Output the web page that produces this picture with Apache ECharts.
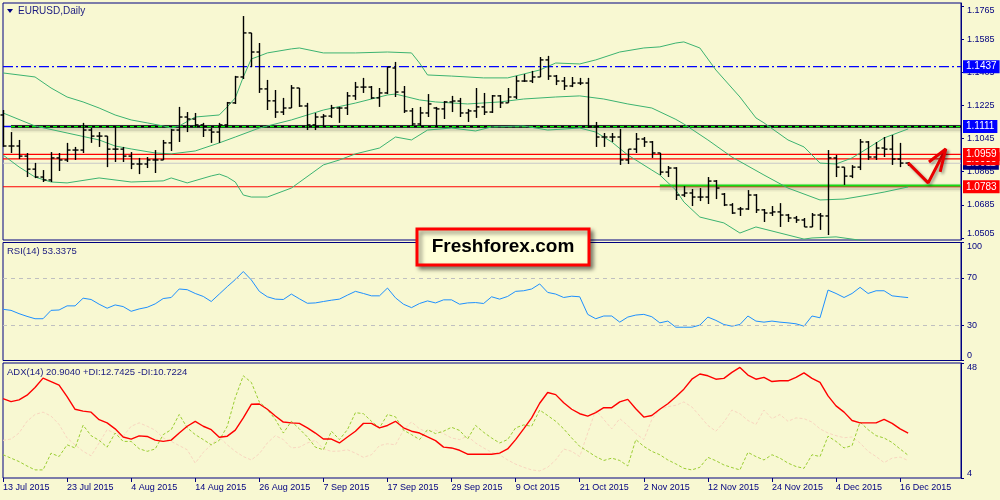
<!DOCTYPE html>
<html><head><meta charset="utf-8">
<script src="https://cdn.jsdelivr.net/npm/echarts@6/dist/echarts.min.js"></script>
<style>html,body{margin:0;padding:0;background:#F8F8D2;}#c{width:1000px;height:500px;}</style>
</head><body><div id="c"></div>
<script>
// ---------- data ----------
const dateLabels = ['13 Jul 2015','23 Jul 2015','4 Aug 2015','14 Aug 2015','26 Aug 2015','7 Sep 2015','17 Sep 2015','29 Sep 2015','9 Oct 2015','21 Oct 2015','2 Nov 2015','12 Nov 2015','24 Nov 2015','4 Dec 2015','16 Dec 2015'];
const priceTicks = [1.0505,1.0685,1.0865,1.1045,1.1225,1.1405,1.1585,1.1765];
const rsiTicks = [0,30,70,100];
const rsiLevels = [30,70];
const adxTicks = [4,48];

const opens = [1.1174,1.1005,1.1005,1.0950,1.0879,1.0836,1.0820,1.0940,1.0929,1.0983,
1.0983,1.1092,1.1059,1.1059,1.0988,1.0988,1.0950,1.0907,1.0907,1.0929,
1.0929,1.1022,1.1092,1.1163,1.1152,1.1120,1.1092,1.1081,1.1120,1.1240,
1.1381,1.1621,1.1517,1.1316,1.1251,1.1190,1.1212,1.1321,1.1223,1.1120,
1.1163,1.1168,1.1212,1.1212,1.1278,1.1326,1.1326,1.1267,1.1294,1.1430,
1.1299,1.1196,1.1125,1.1185,1.1212,1.1207,1.1245,1.1250,1.1185,1.1196,
1.1218,1.1190,1.1278,1.1240,1.1272,1.1359,1.1359,1.1381,1.1474,1.1386,
1.1359,1.1332,1.1348,1.1348,1.1109,1.1054,1.1054,1.1054,1.0929,1.0988,
1.1043,1.1027,1.0967,1.0863,1.0885,1.0738,1.0749,1.0727,1.0727,1.0814,
1.0743,1.0684,1.0662,1.0662,1.0738,1.0657,1.0640,1.0646,1.0629,1.0613,
1.0602,1.0564,1.0629,1.0624,1.0940,1.0890,1.0841,1.0890,1.1027,1.0945,
1.0994,1.0988,1.0934,1.0912];
const highs = [1.1201,1.1081,1.1038,1.0967,1.0913,1.0874,1.0972,1.0967,1.1022,1.1000,
1.1131,1.1103,1.1081,1.1059,1.1114,1.1000,1.0972,1.0940,1.0945,1.0983,
1.1038,1.1098,1.1218,1.1190,1.1185,1.1131,1.1103,1.1131,1.1245,1.1387,
1.1713,1.1621,1.1566,1.1365,1.1310,1.1267,1.1337,1.1321,1.1240,1.1185,
1.1179,1.1229,1.1218,1.1299,1.1354,1.1376,1.1332,1.1321,1.1435,1.1463,
1.1332,1.1212,1.1218,1.1288,1.1218,1.1250,1.1278,1.1267,1.1207,1.1321,
1.1294,1.1283,1.1283,1.1321,1.1387,1.1397,1.1414,1.1490,1.1496,1.1392,
1.1381,1.1381,1.1376,1.1376,1.1136,1.1076,1.1076,1.1098,1.0988,1.1076,
1.1054,1.1032,1.0967,1.0896,1.0890,1.0787,1.0771,1.0776,1.0836,1.0820,
1.0749,1.0694,1.0673,1.0765,1.0743,1.0662,1.0678,1.0694,1.0635,1.0624,
1.0613,1.0640,1.0640,1.0983,1.0956,1.0890,1.0901,1.1043,1.1032,1.1027,
1.1054,1.1065,1.1022,1.0918];
const lows = [1.1000,1.0967,1.0934,1.0836,1.0830,1.0809,1.0809,1.0869,1.0918,1.0929,
1.0967,1.1022,1.1000,1.0890,1.0918,1.0918,1.0879,1.0852,1.0885,1.0858,
1.0929,1.0978,1.1027,1.1081,1.1109,1.1054,1.1022,1.1022,1.1109,1.1234,
1.1370,1.1435,1.1294,1.1201,1.1158,1.1174,1.1212,1.1218,1.1092,1.1092,
1.1109,1.1158,1.1131,1.1174,1.1256,1.1294,1.1261,1.1218,1.1288,1.1272,
1.1185,1.1114,1.1114,1.1163,1.1114,1.1152,1.1190,1.1163,1.1136,1.1158,
1.1174,1.1185,1.1212,1.1240,1.1261,1.1354,1.1348,1.1381,1.1365,1.1337,
1.1310,1.1326,1.1337,1.1103,1.1000,1.1000,1.1027,1.0902,1.0907,1.0967,
1.1000,1.0940,1.0847,1.0836,1.0711,1.0727,1.0678,1.0705,1.0689,1.0716,
1.0678,1.0635,1.0624,1.0657,1.0640,1.0591,1.0624,1.0564,1.0591,1.0586,
1.0564,1.0564,1.0548,1.0520,1.0836,1.0793,1.0830,1.0874,1.0929,1.0929,
1.0945,1.0902,1.0890,1.0898];
const closes = [1.1005,1.1005,1.0950,1.0879,1.0836,1.0820,1.0940,1.0929,1.0983,1.0983,
1.1092,1.1059,1.1059,1.0988,1.0988,1.0950,1.0907,1.0907,1.0929,1.0929,
1.1022,1.1092,1.1163,1.1152,1.1120,1.1092,1.1081,1.1120,1.1240,1.1381,
1.1621,1.1517,1.1316,1.1251,1.1190,1.1212,1.1321,1.1223,1.1120,1.1163,
1.1168,1.1212,1.1212,1.1278,1.1326,1.1326,1.1267,1.1294,1.1435,1.1299,
1.1196,1.1125,1.1185,1.1234,1.1207,1.1245,1.1250,1.1185,1.1196,1.1218,
1.1190,1.1278,1.1240,1.1272,1.1359,1.1359,1.1381,1.1474,1.1386,1.1359,
1.1332,1.1348,1.1348,1.1109,1.1054,1.1054,1.1054,1.0929,1.0988,1.1043,
1.1027,1.0967,1.0863,1.0885,1.0738,1.0749,1.0727,1.0727,1.0814,1.0776,
1.0684,1.0640,1.0662,1.0738,1.0657,1.0640,1.0646,1.0629,1.0613,1.0602,
1.0564,1.0629,1.0624,1.0940,1.0890,1.0841,1.0890,1.1027,1.0945,1.0994,
1.0988,1.0934,1.0912,1.0900];

const bbUpper = [[0,1.1403],[4,1.1381],[6,1.1321],[8,1.1272],[10,1.1245],[12,1.1212],[14,1.1174],[16,1.1147],[18,1.1131],[20,1.1114],[21,1.1103],[22,1.1114],[24,1.1163],[27,1.1174],[28,1.1218],[29,1.1267],[30,1.1381],[31,1.1479],[32,1.1495],[33,1.1512],[36,1.1534],[37,1.1539],[40,1.1512],[44,1.1512],[48,1.1517],[51,1.1512],[52,1.1457],[53,1.1392],[56,1.1386],[60,1.1376],[63,1.1376],[65,1.1397],[67,1.1419],[69,1.1457],[72,1.1452],[74,1.1474],[77,1.1517],[80,1.1539],[82,1.1545],[84,1.1566],[85,1.1572],[87,1.1539],[89,1.1419],[92,1.1272],[94,1.1158],[95,1.1131],[98,1.1038],[100,1.1000],[102,1.0912],[104,1.0907],[106,1.0940],[108,1.0994],[110,1.1049],[113,1.1098]];
const bbMiddle = [[0,1.1185],[4,1.1114],[8,1.1076],[12,1.1038],[14,1.1005],[16,1.0989],[19,1.0967],[21,1.0962],[24,1.0978],[27,1.1022],[29,1.1054],[32,1.1103],[36,1.1147],[40,1.1201],[44,1.1239],[48,1.1283],[49,1.1288],[52,1.1256],[54,1.1245],[58,1.1234],[62,1.1245],[65,1.1261],[69,1.1272],[72,1.1278],[75,1.1261],[78,1.1234],[81,1.1212],[84,1.1150],[85,1.1125],[88,1.1038],[91,1.0945],[95,1.0847],[98,1.0776],[102,1.0711],[105,1.0716],[108,1.0738],[110,1.0754],[113,1.0782]];
const bbLower = [[0,1.0956],[2,1.0891],[4,1.0836],[6,1.0809],[8,1.0804],[12,1.0831],[16,1.0809],[20,1.0815],[21,1.0831],[23,1.0804],[26,1.0842],[27,1.0852],[28,1.0836],[29,1.0809],[30,1.0738],[31,1.0727],[33,1.0727],[36,1.0776],[40,1.0902],[42,1.0929],[44,1.0962],[47,1.0994],[49,1.1054],[51,1.1038],[53,1.1092],[56,1.1103],[59,1.1087],[61,1.1109],[65,1.1114],[68,1.1092],[72,1.1103],[74,1.1081],[76,1.1027],[78,1.0956],[81,1.0874],[82,1.0847],[84,1.0765],[85,1.0700],[87,1.0618],[90,1.0586],[92,1.0531],[94,1.0564],[97,1.0531],[100,1.0498],[101,1.0504],[104,1.0510],[106,1.0498],[108,1.0485],[112,1.0465]];

const rsi = [43.4,42.5,39.7,37.4,35.4,35.4,42.5,42.8,46.3,46.3,
52.8,51.7,47.7,44.3,47.1,45.7,41.7,43.7,45.1,48.0,
52.5,53.4,60.6,60.0,56.8,54.3,50.0,56.3,62.6,68.6,
75.4,68.3,58.6,54.0,52.0,51.7,56.3,52.3,48.5,48.8,
50.0,51.1,52.0,55.4,58.6,56.8,54.8,54.8,61.4,53.1,
47.7,44.8,48.3,50.5,48.8,51.4,51.4,47.7,48.8,49.1,
48.3,54.0,52.0,54.3,58.6,59.1,60.6,64.9,57.7,56.3,
53.4,54.5,54.0,39.1,35.4,37.7,37.7,32.5,36.8,38.5,
39.1,37.1,31.9,33.4,28.2,28.2,28.2,30.0,36.8,34.0,
30.5,29.1,30.5,37.7,33.4,32.5,33.4,32.5,31.9,31.1,
29.1,37.7,36.2,59.7,56.8,53.4,56.8,62.0,56.8,59.1,
59.1,54.8,54.0,53.3];
const adx = [34.4,33.2,33.9,35.7,38.6,42.2,40.9,39.5,35.1,30.3,
29.6,29.2,26.3,25.1,22.8,19.7,18.9,20.1,19.9,18.5,
18.0,18.5,21.2,23.8,25.7,23.8,22.5,19.6,20.0,22.3,
27.0,32.2,32.3,30.3,27.7,25.4,25.1,24.9,23.2,21.2,
18.9,18.9,17.4,19.7,21.9,24.9,24.9,23.2,24.1,25.7,
23.2,21.9,21.2,19.7,18.3,15.8,15.5,14.6,13.1,13.1,
13.1,13.1,13.5,15.1,18.7,22.8,27.0,32.6,36.7,35.9,
32.8,30.3,28.6,27.7,29.0,30.9,30.9,33.1,34.1,30.5,
27.3,27.9,30.3,32.4,35.1,38.0,41.8,43.8,43.1,41.8,
42.1,44.4,46.3,43.4,41.8,42.5,40.9,41.2,41.2,42.5,
44.2,42.1,40.6,35.4,31.6,29.2,26.0,25.1,25.1,25.1,
26.4,24.9,22.8,21.2];
const plusDI = [12.9,11.6,10.3,8.6,7.1,7.1,13.5,12.2,16.7,15.5,
24.2,20.2,18.4,15.8,21.2,18.0,18.0,15.2,14.2,15.1,
20.6,22.5,28.3,23.2,20.6,18.7,16.7,18.4,23.8,34.8,
43.1,40.6,33.1,30.3,26.4,21.2,25.7,22.8,19.7,15.8,
14.8,21.9,18.7,22.5,29.0,28.6,25.7,23.2,28.3,27.4,
22.3,20.6,18.7,22.5,21.0,21.9,23.4,22.2,18.9,24.1,
21.5,19.3,17.4,18.7,23.2,24.3,23.8,30.0,27.9,25.7,
22.8,19.3,16.1,14.2,12.2,10.7,11.6,10.7,8.6,18.7,
16.1,14.2,12.9,10.9,9.4,7.7,7.1,8.1,11.9,10.6,
9.0,8.0,7.1,13.8,12.2,10.9,12.9,11.6,9.7,8.4,
7.7,12.9,12.2,20.0,18.0,15.5,16.4,25.4,22.5,20.2,
19.3,17.6,15.1,12.7];
const minusDI = [18.4,18.9,21.2,25.7,28.3,29.2,27.7,24.5,19.3,16.7,
14.2,12.5,17.4,22.5,21.0,20.0,23.8,25.1,23.8,22.3,
19.3,18.0,16.4,14.8,9.7,13.8,16.7,19.7,16.7,14.2,
12.2,10.9,13.3,17.4,20.2,18.7,15.5,15.8,17.4,18.4,
15.1,14.2,14.3,14.8,13.5,11.9,12.9,16.4,17.1,16.7,
22.3,25.5,22.8,21.5,22.3,21.0,19.3,18.7,20.0,17.4,
15.5,13.8,12.9,10.9,9.3,8.1,7.1,6.7,8.1,10.9,
15.1,14.2,12.2,21.2,30.0,26.4,22.8,26.7,24.1,21.0,
18.7,26.4,30.3,31.3,31.8,33.1,31.2,27.7,24.1,21.9,
25.4,30.0,28.6,26.0,24.5,30.0,26.7,28.3,25.7,27.0,
26.7,25.4,22.8,21.2,20.2,19.4,19.7,17.4,14.2,12.2,
9.9,11.6,12.0,10.7];

// horizontal levels drawn on the price chart
const levelLines = [1.1437, 1.1111, 1.0959, 1.0935, 1.0911, 1.0783];
const supportLevel = 1.0790;
const supportFrom = 82, blackFrom = 1;
// hand-drawn arrow annotation (bar index, price)
const arrowPath = [[113,1.0913],[115.5,1.0804],[117.7,1.0989]];
const arrowHead = [[115.6,1.0918],[117.7,1.0989],[117.0,1.0864]];

const titleText = 'EURUSD,Daily';
const rsiText = 'RSI(14) 53.3375';
const adxText = 'ADX(14) 20.9040 +DI:12.7425 -DI:10.7224';
const watermark = 'Freshforex.com';

// ---------- chart ----------
const navy = '#000080';
const FF = '"Liberation Sans", Arial, sans-serif';
const X_MAX = 119.6;
const Y_MIN = 1.0493, Y_MAX = 1.1784;
const PX = (Y_MAX - Y_MIN) / 237;          // price per pixel of the main panel (for soft shadows)
const bars = opens.map((o, i) => [i, o, highs[i], lows[i], closes[i]]);
const idx = a => a.map((v, i) => [i, v]);
const xLabelPos = dateLabels.map((d, k) => k * 8);

function xAx(gi, show) {
  return {
    type: 'value', gridIndex: gi, min: 0, max: X_MAX,
    axisLine: { show: false, onZero: false }, splitLine: { show: false },
    axisTick: { show: show, length: 4, customValues: xLabelPos, lineStyle: { color: navy } },
    axisLabel: { show: show, customValues: xLabelPos, align: 'left', margin: 5, fontSize: 9, fontFamily: FF, color: navy,
      formatter: v => dateLabels[Math.round(v / 8)] || '' }
  };
}
function yAx(gi, min, max, ticks, fmt) {
  return {
    type: 'value', gridIndex: gi, position: 'right', min: min, max: max,
    axisLine: { show: true, onZero: false, lineStyle: { color: navy } },
    axisTick: { show: true, length: 3, customValues: ticks, lineStyle: { color: navy } },
    splitLine: { show: false },
    axisLabel: { customValues: ticks, formatter: fmt, fontSize: 9, fontFamily: FF, color: navy, margin: 6,
      verticalAlignMaxLabel: 'top', verticalAlignMinLabel: 'bottom' }
  };
}
// horizontal object drawn as a plain 2-point line series, with an optional price box at its right end
function hLine(value, from, style, labelBg, z) {
  const s = { type: 'line', xAxisIndex: 0, yAxisIndex: 0, z: z, silent: true, showSymbol: false, symbol: 'none',
    clip: false, color: style.color, lineStyle: style,
    data: [[from == null ? 0 : from, value], [X_MAX, value]] };
  if (labelBg) {
    s.endLabel = { show: true, distance: 2, formatter: value.toFixed(4), color: '#fff', backgroundColor: labelBg,
      padding: [1, 3, 0, 3], fontSize: 10, fontFamily: FF, lineHeight: 12 };
  }
  return s;
}
// soft drop shadow under a trend line, built from translucent strokes
function softShadow(value, from, z) {
  return [
    hLine(value - 2 * PX, from, { color: 'rgba(0,0,0,0.06)', width: 8 }, null, z),
    hLine(value - 2.5 * PX, from, { color: 'rgba(0,0,0,0.08)', width: 4 }, null, z)
  ];
}

const chart = echarts.init(document.getElementById('c'), null, { renderer: 'canvas' });
chart.setOption({
  animation: false,
  backgroundColor: '#F8F8D2',
  grid: [
    { left: 3, top: 3, width: 958, height: 237, show: true, borderColor: navy, borderWidth: 1 },
    { left: 3, top: 242.5, width: 958, height: 118, show: true, borderColor: navy, borderWidth: 1 },
    { left: 3, top: 363, width: 958, height: 115, show: true, borderColor: navy, borderWidth: 1 }
  ],
  xAxis: [xAx(0, false), xAx(1, false), xAx(2, true)],
  yAxis: [
    yAx(0, Y_MIN, Y_MAX, priceTicks, v => v.toFixed(4)),
    yAx(1, 0, 100, rsiTicks, v => String(v)),
    yAx(2, 4, 48, adxTicks, v => String(v))
  ],
  series: [
    hLine(levelLines[0], null, { color: '#0000FF', width: 1.3, type: [10, 3, 2, 3] }, '#0000FF', 1),
    hLine(levelLines[1], null, { color: '#0000FF', width: 1.5, type: 'solid' }, '#0000FF', 1),
    ...softShadow(levelLines[1], blackFrom, 1),
    hLine(levelLines[1], blackFrom, { color: '#000000', width: 2.6, type: 'solid' }, null, 1),
    hLine(levelLines[1], blackFrom, { color: '#00FF00', width: 1.3, type: [4, 3] }, null, 1),
    hLine(levelLines[4], null, { color: '#C8C8C8', width: 1, type: 'solid' }, '#000080', 1),
    hLine(levelLines[3], null, { color: '#FF0000', width: 1.2, type: 'solid' }, '#FF0000', 1),
    hLine(levelLines[2], null, { color: '#FF0000', width: 1.2, type: 'solid' }, '#FF0000', 1),
    hLine(levelLines[5], null, { color: '#FF0000', width: 1.2, type: 'solid' }, '#FF0000', 1),
    ...softShadow(supportLevel, supportFrom, 1),
    hLine(supportLevel, supportFrom, { color: '#14DC14', width: 1.8, type: 'solid' }, null, 1),
    { type: 'line', xAxisIndex: 0, yAxisIndex: 0, data: bbUpper, showSymbol: false, z: 2, lineStyle: { color: '#3CB371', width: 1 } },
    { type: 'line', xAxisIndex: 0, yAxisIndex: 0, data: bbMiddle, showSymbol: false, z: 2, lineStyle: { color: '#3CB371', width: 1 } },
    { type: 'line', xAxisIndex: 0, yAxisIndex: 0, data: bbLower, showSymbol: false, z: 2, lineStyle: { color: '#3CB371', width: 1 } },
    { type: 'custom', xAxisIndex: 0, yAxisIndex: 0, data: bars, z: 3, encode: { x: 0, y: [1, 2, 3, 4] },
      renderItem: function (params, api) {
        const i = api.value(0);
        const ph = api.coord([i, api.value(2)]);
        const pl = api.coord([i, api.value(3)]);
        const po = api.coord([i, api.value(1)]);
        const pc = api.coord([i, api.value(4)]);
        const x = Math.round(ph[0]) + 0.5;
        const st = { stroke: '#000', lineWidth: 1.4 };
        return { type: 'group', children: [
          { type: 'line', shape: { x1: x, y1: ph[1], x2: x, y2: pl[1] }, style: st },
          { type: 'line', shape: { x1: x - 3, y1: po[1], x2: x, y2: po[1] }, style: st },
          { type: 'line', shape: { x1: x, y1: pc[1], x2: x + 3, y2: pc[1] }, style: st }
        ] };
      } },
    { type: 'line', xAxisIndex: 0, yAxisIndex: 0, data: arrowPath, showSymbol: false, z: 10,
      lineStyle: { color: '#E80000', width: 3, shadowBlur: 3, shadowColor: 'rgba(0,0,0,0.35)', shadowOffsetX: 2, shadowOffsetY: 2 } },
    { type: 'line', xAxisIndex: 0, yAxisIndex: 0, data: arrowHead, showSymbol: false, z: 10,
      lineStyle: { color: '#E80000', width: 3, shadowBlur: 3, shadowColor: 'rgba(0,0,0,0.35)', shadowOffsetX: 2, shadowOffsetY: 2 } },
    { type: 'line', xAxisIndex: 1, yAxisIndex: 1, data: idx(rsi), showSymbol: false, z: 3, lineStyle: { color: '#1E90FF', width: 1 },
      markLine: { silent: true, symbol: ['none', 'none'], label: { show: false }, precision: 4,
        lineStyle: { color: '#C0C0C0', type: [4, 4], width: 1 },
        data: rsiLevels.map(v => ({ yAxis: v })) } },
    { type: 'line', xAxisIndex: 2, yAxisIndex: 2, data: idx(minusDI), showSymbol: false, z: 2, lineStyle: { color: '#F8D6C0', width: 1, type: [3, 2] } },
    { type: 'line', xAxisIndex: 2, yAxisIndex: 2, data: idx(plusDI), showSymbol: false, z: 3, lineStyle: { color: '#9ACD32', width: 1, type: [3, 2] } },
    { type: 'line', xAxisIndex: 2, yAxisIndex: 2, data: idx(adx), showSymbol: false, z: 4, lineStyle: { color: '#FF0000', width: 1.4 } }
  ],
  graphic: [
    { type: 'polygon', shape: { points: [[7, 9], [13, 9], [10, 13]] }, style: { fill: navy }, z: 50 },
    { type: 'text', x: 18, y: 11, z: 50, style: { text: titleText, fill: '#1a1a80', fontSize: 10, fontFamily: FF, verticalAlign: 'middle' } },
    { type: 'text', x: 7, y: 251, z: 50, style: { text: rsiText, fill: '#1a1a80', fontSize: 9.5, fontFamily: FF, verticalAlign: 'middle' } },
    { type: 'text', x: 7, y: 372, z: 50, style: { text: adxText, fill: '#1a1a80', fontSize: 9.5, fontFamily: FF, verticalAlign: 'middle' } },
    { type: 'rect', z: 100, shape: { x: 417, y: 229, width: 172, height: 36 },
      style: { fill: '#FFFFD8', stroke: '#FF0000', lineWidth: 3, shadowBlur: 4, shadowOffsetX: 3, shadowOffsetY: 3, shadowColor: 'rgba(0,0,0,0.45)' } },
    { type: 'text', z: 101, x: 503, y: 247, style: { text: watermark, fill: '#000', fontSize: 19, fontWeight: 'bold', fontFamily: FF, align: 'center', verticalAlign: 'middle' } }
  ]
});
</script></body></html>
